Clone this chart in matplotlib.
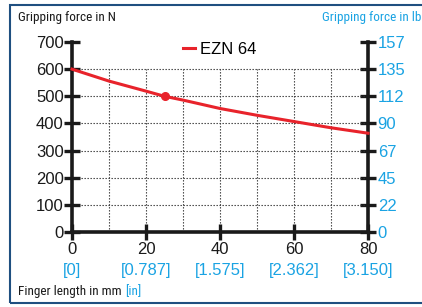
import matplotlib
matplotlib.use("Agg")
import matplotlib.pyplot as plt
from matplotlib import font_manager
from matplotlib.patches import Rectangle

# finger length in mm and gripping force in N
length_mm = [0, 10, 20, 25, 30, 40, 50, 60, 70, 80]
force_n = [600, 556, 519, 500, 486, 455, 430, 407, 384, 364]
marker_mm = [25]
marker_n = [500]

x_ticks = [0, 20, 40, 60, 80]
x_inch_labels = ["[0]", "[0.787]", "[1.575]", "[2.362]", "[3.150]"]
y_ticks = [0, 100, 200, 300, 400, 500, 600, 700]
y_lb_labels = ["0", "22", "45", "67", "90", "112", "135", "157"]
grid_x = [10, 20, 30, 40, 50, 60, 70]
grid_y = [100, 200, 300, 400, 500, 600]

RED = "#e8232b"
BLUE = "#1aa3e3"
NAVY = "#1f4f80"

plt.rcParams["font.family"] = "Liberation Sans"

# look for a condensed face for the axis captions, narrowest first
narrow_file = None
files = [f.fname for f in font_manager.fontManager.ttflist]
for key in ["liberationsansnarrow-regular", "robotocondensed-regular", "condensed", "narrow"]:
    for fn in files:
        low = fn.lower()
        if key in low and "bold" not in low and "oblique" not in low and "italic" not in low:
            narrow_file = fn
            break
    if narrow_file:
        break
if narrow_file:
    cap = font_manager.FontProperties(fname=narrow_file, size=9.5)
else:
    cap = font_manager.FontProperties(family="DejaVu Sans", size=8.5)

W, H = 422, 307
fig = plt.figure(figsize=(W / 100, H / 100), dpi=100)
fig.patches.append(Rectangle((9.5 / W, 4.5 / H), 1.0, (H - 9) / H, transform=fig.transFigure,
                             fill=False, edgecolor=NAVY, linewidth=1.5))

ax = fig.add_axes([72 / W, 75 / H, 296 / W, 190 / H])
ax.set_xlim(0, 80)
ax.set_ylim(0, 700)

# dotted grid, only up to 600 N
ax.vlines(grid_x, 0, 600, colors="#333333", linestyles=(0, (1.2, 1.5)), linewidth=0.8, zorder=1)
ax.hlines(grid_y, 0, 80, colors="#333333", linestyles=(0, (1.2, 1.5)), linewidth=0.8, zorder=1)

ax.plot(length_mm, force_n, color=RED, linewidth=2.2, label="EZN 64", zorder=3, clip_on=False)
ax.plot(marker_mm, marker_n, "o", color=RED, markersize=5.5, zorder=4)

ax.spines["top"].set_visible(False)
for s in ["left", "right", "bottom"]:
    ax.spines[s].set_linewidth(2.6)
    ax.spines[s].set_color("#1a1a1a")

ax.set_xticks(x_ticks)
ax.set_yticks(y_ticks)
ax.tick_params(axis="both", direction="inout", length=12, width=2.4, color="#1a1a1a",
               labelsize=12, labelcolor="#1a1a1a")
ax.tick_params(axis="x", pad=1)
ax.tick_params(axis="y", pad=0)

sec_y = ax.secondary_yaxis("right")
sec_y.set_yticks(y_ticks)
sec_y.set_yticklabels(y_lb_labels)
sec_y.spines["right"].set_visible(False)
sec_y.tick_params(direction="inout", length=12, width=2.4, color="#1a1a1a",
                  labelsize=12, labelcolor=BLUE, pad=1)

sec_x = ax.secondary_xaxis("bottom")
sec_x.set_xticks(x_ticks)
sec_x.set_xticklabels(x_inch_labels)
sec_x.spines["bottom"].set_visible(False)
sec_x.tick_params(length=0, labelsize=12, labelcolor=BLUE, pad=22)

ax.legend(loc="upper center", bbox_to_anchor=(0.50, 1.08), frameon=False, fontsize=12,
          handlelength=0.7, handletextpad=0.3)

fig.text(18 / W, 1 - 18 / H, "Gripping force in N", fontproperties=cap,
         color="#1a1a1a", va="center", ha="left")
fig.text(421 / W, 1 - 18 / H, "Gripping force in lb", fontproperties=cap,
         color=BLUE, va="center", ha="right")
t = fig.text(18 / W, 1 - 292 / H, "Finger length in mm", fontproperties=cap,
             color="#1a1a1a", va="center", ha="left")
t_in = fig.text(0, 1 - 292 / H, "[in]", fontproperties=cap, color=BLUE, va="center", ha="left")
# place [in] right after the caption
fig.canvas.draw()
bb = t.get_window_extent()
t_in.set_position(((bb.x1 + 4) / W, 1 - 292 / H))

fig.savefig("out.png", dpi=100)
